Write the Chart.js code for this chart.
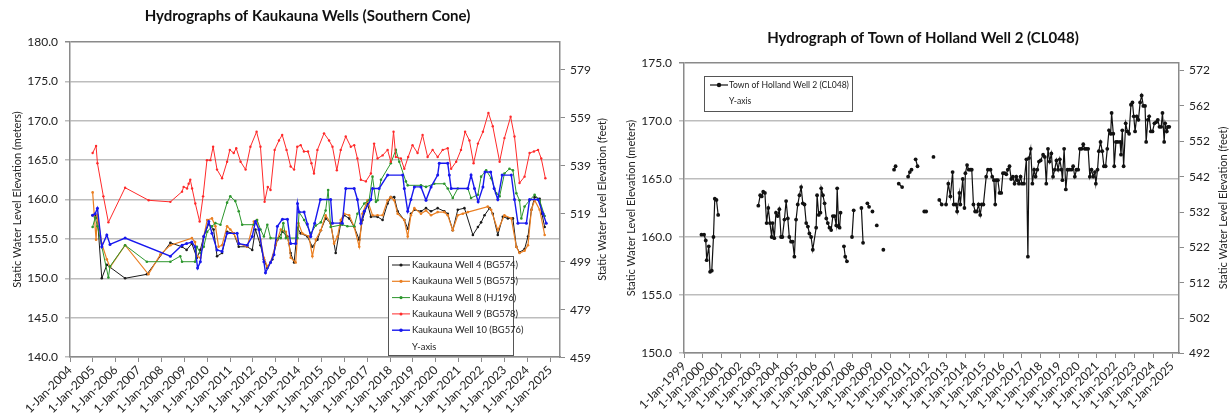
<!DOCTYPE html>
<html>
<head>
<meta charset="utf-8">
<script src="https://cdn.jsdelivr.net/npm/chart.js@4.4.1/dist/chart.umd.min.js"></script>
<style>
  html, body { margin: 0; padding: 0; background: #fff; }
  #wrap { position: relative; width: 1231px; height: 416px; }
  .pane { position: absolute; top: 0; height: 416px; }
</style>
</head>
<body>
<div id="wrap">
  <div class="pane" style="left:0;width:615px"><canvas id="kaukauna" width="615" height="416"></canvas></div>
  <div class="pane" style="left:615px;width:616px"><canvas id="holland" width="616" height="416"></canvas></div>
</div>
<script>
const FT = 3.28084; // metres -> feet

// ---- Kaukauna wells (decimal year, static water level in m) ----
const well4Years = [2004.99, 2005.10, 2005.20, 2005.39, 2005.61, 2006.41, 2007.36, 2008.39, 2008.90, 2009.10, 2009.33, 2009.55, 2009.70, 2009.85, 2010.07, 2010.28, 2010.43, 2010.65, 2010.87, 2011.16, 2011.38, 2011.75, 2011.97, 2012.11, 2012.33, 2012.48, 2012.63, 2012.85, 2013.07, 2013.29, 2013.51, 2013.65, 2013.80, 2013.95, 2014.09, 2014.38, 2014.60, 2014.82, 2014.97, 2015.18, 2015.40, 2015.62, 2015.84, 2015.99, 2016.21, 2016.43, 2016.65, 2016.79, 2017.01, 2017.16, 2017.45, 2017.67, 2017.89, 2018.03, 2018.18, 2018.33, 2018.62, 2018.77, 2018.91, 2019.06, 2019.35, 2019.57, 2019.79, 2020.08, 2020.37, 2020.52, 2020.74, 2020.96, 2021.25, 2021.62, 2021.84, 2021.98, 2022.13, 2022.35, 2022.49, 2022.71, 2022.93, 2023.15, 2023.37, 2023.52, 2023.66, 2023.88, 2024.03, 2024.18, 2024.32, 2024.54, 2024.64, 2024.76];
const well4Levels = [158.0, 158.0, 157.6, 150.0, 151.7, 150.0, 150.5, 154.5, 154.0, 153.6, 154.4, 152.6, 153.6, 155.3, 156.9, 156.2, 152.8, 153.2, 155.9, 155.7, 154.0, 154.0, 153.6, 156.2, 154.2, 152.4, 151.3, 152.4, 154.9, 155.9, 155.3, 153.2, 152.0, 156.4, 155.7, 155.3, 154.0, 154.9, 156.1, 157.6, 157.0, 153.2, 157.0, 158.0, 157.6, 156.5, 154.9, 157.4, 159.5, 157.8, 157.8, 157.4, 159.5, 160.3, 160.3, 158.5, 157.4, 156.3, 158.2, 158.7, 158.5, 158.9, 158.5, 158.9, 158.5, 158.2, 156.1, 158.7, 158.9, 155.5, 156.5, 157.1, 158.0, 158.9, 158.2, 155.5, 157.8, 157.6, 157.6, 154.0, 153.3, 153.7, 155.3, 158.7, 160.3, 160.1, 158.2, 156.5];

const well5Years = [2004.99, 2005.14, 2005.20, 2005.39, 2005.61, 2005.75, 2006.41, 2007.43, 2007.95, 2008.39, 2009.33, 2009.47, 2009.55, 2009.70, 2009.85, 2010.00, 2010.21, 2010.36, 2010.50, 2010.65, 2010.87, 2011.01, 2011.16, 2011.38, 2011.75, 2012.04, 2012.18, 2012.33, 2012.48, 2012.63, 2012.77, 2012.99, 2013.22, 2013.44, 2013.58, 2013.65, 2013.87, 2013.99, 2014.16, 2014.45, 2014.60, 2014.75, 2014.97, 2015.18, 2015.40, 2015.55, 2015.70, 2015.84, 2015.99, 2016.21, 2016.43, 2016.65, 2016.79, 2017.01, 2017.23, 2017.45, 2017.67, 2017.89, 2018.03, 2018.18, 2018.33, 2018.62, 2018.77, 2018.91, 2019.06, 2019.35, 2019.57, 2019.79, 2020.08, 2020.37, 2020.52, 2020.74, 2020.96, 2021.18, 2021.40, 2022.27, 2022.42, 2022.71, 2023.00, 2023.30, 2023.52, 2023.66, 2023.88, 2024.03, 2024.18, 2024.32, 2024.54, 2024.76];
const well5Levels = [160.9, 154.9, 158.0, 154.4, 152.4, 151.4, 154.2, 150.5, 153.0, 154.2, 155.1, 154.6, 152.8, 152.6, 155.3, 157.4, 157.6, 156.6, 154.0, 154.2, 156.6, 156.2, 155.7, 154.4, 154.0, 157.2, 157.4, 154.9, 152.6, 151.5, 152.0, 154.2, 156.2, 155.9, 154.4, 152.6, 152.0, 157.0, 155.7, 155.3, 152.8, 154.9, 156.1, 158.0, 157.0, 154.4, 155.3, 157.4, 158.2, 158.0, 156.5, 154.0, 158.2, 159.9, 158.0, 158.0, 158.0, 159.9, 160.3, 159.9, 158.2, 157.4, 155.3, 158.0, 158.9, 158.2, 158.6, 158.0, 158.4, 158.4, 158.0, 156.1, 158.0, 158.2, 158.4, 159.1, 158.7, 156.1, 158.0, 157.6, 154.0, 153.2, 153.5, 154.2, 158.7, 159.9, 158.7, 155.5];

const well8Years = [2004.99, 2005.10, 2005.20, 2005.68, 2005.75, 2006.41, 2007.36, 2008.39, 2008.82, 2008.90, 2009.47, 2009.55, 2009.70, 2009.85, 2010.00, 2010.21, 2010.36, 2010.58, 2010.87, 2011.01, 2011.23, 2011.38, 2011.53, 2012.04, 2012.18, 2012.33, 2012.48, 2012.63, 2012.77, 2013.22, 2013.33, 2013.44, 2013.95, 2014.02, 2014.24, 2014.53, 2014.75, 2014.97, 2015.18, 2015.29, 2015.40, 2015.91, 2016.13, 2016.43, 2016.57, 2016.87, 2017.08, 2017.23, 2017.38, 2017.45, 2017.60, 2018.03, 2018.25, 2018.40, 2018.69, 2018.77, 2019.35, 2019.57, 2019.93, 2020.37, 2020.52, 2020.74, 2020.96, 2021.40, 2021.54, 2021.84, 2021.98, 2022.20, 2022.42, 2022.64, 2022.79, 2023.00, 2023.22, 2023.37, 2023.52, 2023.66, 2023.74, 2023.88, 2024.10, 2024.32, 2024.54, 2024.76];
const well8Levels = [156.5, 157.7, 156.6, 150.1, 151.5, 154.2, 152.1, 152.1, 152.8, 152.1, 152.1, 154.0, 153.2, 154.0, 155.9, 156.6, 157.0, 156.8, 159.6, 160.4, 159.8, 158.5, 156.8, 156.8, 157.4, 156.2, 155.3, 156.8, 155.1, 155.1, 157.0, 155.1, 155.1, 158.4, 157.4, 155.7, 156.7, 157.1, 158.6, 161.2, 156.5, 156.8, 156.6, 156.6, 158.2, 159.5, 159.9, 162.9, 159.7, 159.9, 162.5, 164.6, 166.3, 164.8, 162.3, 161.8, 161.8, 161.6, 162.0, 162.0, 161.4, 160.2, 161.4, 161.4, 160.2, 160.6, 162.9, 163.7, 162.7, 160.8, 160.4, 163.3, 163.9, 163.7, 160.8, 159.9, 157.6, 159.1, 159.9, 160.6, 159.9, 157.9];

const well9Years = [2004.99, 2005.14, 2005.20, 2005.46, 2005.68, 2006.41, 2007.44, 2008.39, 2008.90, 2008.97, 2009.12, 2009.19, 2009.26, 2009.34, 2009.48, 2009.67, 2009.82, 2009.99, 2010.14, 2010.26, 2010.43, 2010.65, 2010.87, 2010.99, 2011.16, 2011.27, 2011.46, 2011.68, 2011.89, 2012.16, 2012.33, 2012.51, 2012.65, 2012.77, 2012.95, 2013.14, 2013.28, 2013.47, 2013.65, 2013.80, 2013.94, 2014.09, 2014.23, 2014.41, 2014.56, 2014.67, 2014.82, 2015.11, 2015.33, 2015.48, 2015.67, 2015.84, 2016.06, 2016.28, 2016.43, 2016.57, 2016.72, 2016.94, 2017.16, 2017.30, 2017.45, 2017.67, 2017.89, 2018.03, 2018.15, 2018.25, 2018.47, 2018.62, 2018.79, 2018.98, 2019.20, 2019.42, 2019.64, 2019.86, 2020.08, 2020.30, 2020.52, 2020.67, 2020.89, 2021.10, 2021.28, 2021.47, 2021.65, 2021.84, 2022.06, 2022.30, 2022.49, 2022.79, 2023.00, 2023.27, 2023.44, 2023.66, 2023.88, 2024.10, 2024.29, 2024.47, 2024.61, 2024.79];
const well9Levels = [165.9, 166.8, 164.6, 160.4, 157.1, 161.5, 159.9, 159.7, 161.0, 161.6, 161.4, 162.0, 162.5, 161.4, 159.5, 157.2, 160.4, 165.0, 165.0, 166.7, 163.8, 162.7, 164.8, 166.3, 165.9, 166.5, 164.8, 163.8, 166.7, 168.6, 166.7, 159.7, 161.6, 161.2, 166.3, 167.5, 168.2, 166.3, 164.2, 163.8, 166.7, 166.9, 166.1, 166.1, 164.6, 163.3, 166.3, 168.4, 167.5, 166.7, 163.7, 166.3, 168.0, 166.7, 166.9, 165.2, 162.5, 162.3, 163.3, 167.1, 165.2, 165.6, 166.3, 164.8, 168.6, 165.4, 165.2, 163.9, 165.4, 166.9, 165.9, 168.2, 165.4, 166.3, 165.4, 166.3, 166.5, 163.9, 164.8, 166.3, 168.6, 167.5, 164.6, 167.1, 168.6, 171.0, 169.3, 164.8, 167.8, 170.5, 168.0, 162.1, 162.9, 165.9, 166.1, 166.3, 165.2, 162.7];

const well10Years = [2004.99, 2005.10, 2005.20, 2005.39, 2005.61, 2005.75, 2006.41, 2008.39, 2008.90, 2009.10, 2009.33, 2009.47, 2009.58, 2009.70, 2009.85, 2010.07, 2010.21, 2010.43, 2010.65, 2010.87, 2011.31, 2011.38, 2011.75, 2011.97, 2012.11, 2012.26, 2012.48, 2012.55, 2012.77, 2012.92, 2013.07, 2013.29, 2013.51, 2013.65, 2013.87, 2013.95, 2014.02, 2014.24, 2014.38, 2014.53, 2014.70, 2014.95, 2015.40, 2015.48, 2015.91, 2016.06, 2016.43, 2016.57, 2016.72, 2016.87, 2017.16, 2017.23, 2017.52, 2017.89, 2018.55, 2018.62, 2018.77, 2018.91, 2019.06, 2019.35, 2019.57, 2019.79, 2020.08, 2020.15, 2020.52, 2020.59, 2020.67, 2021.40, 2021.54, 2021.69, 2021.85, 2022.06, 2022.15, 2022.40, 2022.55, 2022.71, 2022.90, 2023.30, 2023.44, 2023.59, 2023.96, 2024.10, 2024.47, 2024.69, 2024.83];
const well10Levels = [158.0, 158.2, 158.9, 154.0, 155.5, 154.3, 155.1, 152.8, 154.2, 154.4, 154.6, 154.0, 151.3, 152.1, 155.3, 157.2, 155.7, 153.6, 153.4, 155.7, 155.7, 154.4, 154.2, 155.3, 157.2, 156.2, 152.1, 150.7, 152.0, 153.0, 156.6, 157.5, 157.5, 154.4, 154.4, 159.5, 158.4, 158.4, 156.9, 155.3, 157.0, 160.0, 160.0, 157.0, 157.0, 161.4, 161.4, 160.0, 157.0, 158.5, 160.0, 161.4, 161.4, 163.1, 163.1, 161.4, 158.5, 160.0, 161.6, 161.6, 159.9, 161.6, 163.1, 164.6, 164.6, 163.1, 161.4, 161.4, 163.1, 161.4, 159.7, 161.6, 163.5, 163.5, 161.4, 160.0, 163.1, 163.1, 160.0, 157.0, 157.0, 160.0, 160.0, 158.2, 157.0];

// ---- Town of Holland Well 2 (null = gap in record) ----
const hollandYears = [1999.93, 2000.07, 2000.16, 2000.21, 2000.32, 2000.39, 2000.48, 2000.57, 2000.64, 2000.73, 2000.82, 2001.5,
  2002.96, 2003.06, 2003.14, 2003.22, 2003.31, 2003.40, 2003.49, 2003.58, 2003.67, 2003.72, 2003.81, 2003.90, 2003.99, 2004.08, 2004.17, 2004.24, 2004.35, 2004.44, 2004.53, 2004.61, 2004.70, 2004.79, 2004.88, 2004.97, 2005.06, 2005.15, 2005.24, 2005.33, 2005.42, 2005.51, 2005.60, 2005.68, 2005.77, 2005.86, 2006.04, 2006.09, 2006.18, 2006.27, 2006.31, 2006.40, 2006.49, 2006.58, 2006.66, 2006.75, 2006.84, 2006.93, 2007.02, 2007.11, 2007.16, 2007.24, 2007.29, 2007.34, 2007.43,
  2007.52, 2007.59, 2007.68, 2007.80, 2007.95, 2008.04, 2008.20, 2008.45, 2008.54, 2008.65, 2008.77, 2008.86, 2008.95, 2009.04, 2009.15, 2009.27, 2009.45, 2009.62, 2009.90,
  2010.19, 2010.27, 2010.35, 2010.44, 2010.62, 2010.80, 2010.94, 2011.03, 2011.12, 2011.23, 2011.34, 2011.44, 2011.60, 2011.80, 2011.90, 2012.10, 2012.29, 2012.45, 2012.60, 2012.73, 2012.85,
  2012.96, 2013.08, 2013.19, 2013.31, 2013.37, 2013.49, 2013.55, 2013.67, 2013.72, 2013.85, 2013.94, 2013.99, 2014.08, 2014.17, 2014.26, 2014.33, 2014.42, 2014.51, 2014.60, 2014.69, 2014.78, 2014.86, 2014.95, 2015.10, 2015.19, 2015.33, 2015.42, 2015.51, 2015.58, 2015.63, 2015.72, 2015.81, 2015.90, 2015.99, 2016.08, 2016.17, 2016.25, 2016.34, 2016.43, 2016.52, 2016.61, 2016.70, 2016.75, 2016.84, 2016.93, 2017.00, 2017.11, 2017.24, 2017.32, 2017.38, 2017.47, 2017.56, 2017.65, 2017.73, 2017.82, 2017.91, 2018.00, 2018.13, 2018.22, 2018.30, 2018.39, 2018.48, 2018.57, 2018.66, 2018.75, 2018.84, 2018.93, 2019.02, 2019.11, 2019.16, 2019.25, 2019.34, 2019.43, 2019.52, 2019.64, 2019.73, 2019.82, 2019.91, 2020.00, 2020.09, 2020.18, 2020.27, 2020.35, 2020.44, 2020.53, 2020.62, 2020.71, 2020.80, 2020.89, 2020.94, 2021.03, 2021.10, 2021.19, 2021.28, 2021.37, 2021.46, 2021.55, 2021.64, 2021.73, 2021.78, 2021.87, 2021.92, 2022.01, 2022.10, 2022.23, 2022.28, 2022.35, 2022.42, 2022.53, 2022.62, 2022.71, 2022.81, 2022.89, 2022.96, 2023.03, 2023.12, 2023.21, 2023.30, 2023.38, 2023.47, 2023.56, 2023.62, 2023.71, 2023.78, 2023.87, 2023.96, 2024.06, 2024.15, 2024.24, 2024.33, 2024.42, 2024.49, 2024.58, 2024.63, 2024.72, 2024.78, 2024.85];
const hollandLevels = [160.2, 160.2, 159.7, 158.0, 159.2, 157.0, 157.1, 160.0, 163.3, 163.2, 161.9, null,
  162.7, 163.6, 163.5, 163.9, 163.8, 161.2, 162.5, 161.2, 160.0, 161.2, 159.9, 162.1, 161.8, 162.4, 160.0, 160.0, 161.5, 163.1, 161.6, 160.0, 159.6, 159.6, 158.3, 161.5, 162.8, 163.6, 164.3, 162.9, 162.8, 161.2, 160.9, 160.3, 160.0, 158.9, 160.8, 163.6, 161.9, 162.1, 164.2, 163.6, 162.9, 161.6, 161.2, 160.8, 160.6, 161.8, 161.8, 161.0, 164.2, 160.9, 160.8, 162.1, null,
  159.2, 158.3, 157.9, null, 160.0, 162.3, null, 162.5, 159.5, null, 162.9, 162.6, null, 162.2, null, 161.0, null, 158.9, null,
  165.8, 166.1, null, 164.6, 164.3, null, 165.2, 165.6, 165.8, null, 166.7, 166.1, null, 162.2, 162.2, null, 166.9, null, 163.2, 162.8, null,
  162.8, 164.6, 163.5, 165.6, 162.8, 162.8, 162.2, 163.8, 162.8, 165.0, 162.5, 165.5, 166.2, 165.8, 165.8, 165.8, 162.8, 162.2, 162.2, 162.8, 161.9, 162.8, 162.8, 165.2, 165.8, 165.8, 165.2, 164.9, 162.8, 164.9, 164.9, 163.8, 163.8, 165.5, 165.5, 165.4, 165.8, 166.1, 165.0, 165.2, 164.6, 165.2, 164.9, 164.6, 165.2, 164.6, 164.6, 166.7, 158.3, 166.8, 167.6, 164.6, 165.8, 165.2, 165.8, 166.5, 166.6, 167.1, 166.9, 164.6, 167.6, 166.5, 167.2, 165.2, 165.8, 166.6, 165.8, 166.7, 165.8, 164.9, 167.6, 164.1, 165.8, 165.8, 165.8, 166.1, 165.2, 165.8, 165.8, 167.6, 167.6, 168.0, 167.6, 167.6, 167.6, 165.2, 165.8, 165.2, 165.6, 164.6, 165.8, 167.4, 168.2, 167.4, 166.1, 166.1, 167.6, 169.2, 168.9, 170.7, 168.9, 166.1, 168.2, 168.2, 168.2, 167.1, 169.2, 166.1, 169.8, 169.1, 168.9, 171.4, 171.6, 170.4, 169.1, 170.4, 170.1, 171.6, 172.2, 171.3, 171.3, 168.2, 170.1, 170.4, 169.1, 169.1, 169.8, 169.9, 170.1, 169.5, 169.5, 170.7, 168.2, 169.8, 169.1, 169.5, 169.5];

// ---- axis ticks ----
const kaukaunaYearTicks = [2004, 2005, 2006, 2007, 2008, 2009, 2010, 2011, 2012, 2013, 2014, 2015, 2016, 2017, 2018, 2019, 2020, 2021, 2022, 2023, 2024, 2025];
const kaukaunaMeterTicks = [140, 145, 150, 155, 160, 165, 170, 175, 180];
const kaukaunaFeetTicks = [459, 479, 499, 519, 539, 559, 579];
const hollandYearTicks = [1999, 2000, 2001, 2002, 2003, 2004, 2005, 2006, 2007, 2008, 2009, 2010, 2011, 2012, 2013, 2014, 2015, 2016, 2017, 2018, 2019, 2020, 2021, 2022, 2023, 2024, 2025];
const hollandMeterTicks = [150, 155, 160, 165, 170, 175];
const hollandFeetTicks = [492, 502, 512, 522, 532, 542, 552, 562, 572];

const pts = (xs, ys) => xs.map((x, i) => ({ x: x, y: ys[i] }));

Chart.defaults.font.family = 'Lato';
Chart.defaults.color = '#222';

const AXIS = '#8a8a8a';
const GRID = '#bdbdbd';

// legend box drawn inside the plot like the Excel original
const boxLegend = {
  id: 'boxLegend',
  afterDraw(chart, args, o) {
    const ctx = chart.ctx;
    ctx.save();
    ctx.fillStyle = '#fff';
    ctx.fillRect(o.x, o.y, o.w, o.h);
    ctx.strokeStyle = '#555';
    ctx.lineWidth = 1;
    ctx.strokeRect(o.x + 0.5, o.y + 0.5, o.w, o.h);
    ctx.font = o.font;
    ctx.textBaseline = 'middle';
    chart.data.datasets.forEach((ds, i) => {
      const y = o.y + o.first + i * o.row;
      if (ds.data.length) {
        ctx.strokeStyle = ds.borderColor;
        ctx.lineWidth = ds.borderWidth;
        ctx.beginPath();
        ctx.moveTo(o.x + o.line0, y);
        ctx.lineTo(o.x + o.line1, y);
        ctx.stroke();
        ctx.fillStyle = ds.pointBackgroundColor;
        ctx.beginPath();
        ctx.arc(o.x + (o.line0 + o.line1) / 2, y, ds.pointRadius + 0.3, 0, Math.PI * 2);
        ctx.fill();
      }
      ctx.fillStyle = '#222';
      ctx.fillText(ds.label, o.x + o.text, y);
    });
    ctx.restore();
  }
};

// right axis title, reading bottom-to-top as in the original
const rightTitle = {
  id: 'rightTitle',
  afterDraw(chart, args, o) {
    const ctx = chart.ctx;
    const a = chart.chartArea;
    ctx.save();
    ctx.translate(a.right + o.offset, (a.top + a.bottom) / 2);
    ctx.rotate(-Math.PI / 2);
    ctx.font = '11px Lato';
    ctx.fillStyle = '#222';
    ctx.textAlign = 'center';
    ctx.textBaseline = 'middle';
    ctx.fillText(o.text, 0, 0);
    ctx.restore();
  }
};

function scales(cfg) {
  return {
    x: {
      type: 'linear', min: cfg.xMin, max: cfg.xMax,
      afterBuildTicks: s => { s.ticks = cfg.xTicks.map(v => ({ value: v })); },
      afterFit: s => { s.height = cfg.xHeight; },
      ticks: { autoSkip: false, minRotation: 45, maxRotation: 45, padding: 1, font: { size: 12 }, callback: v => '1-Jan-' + v },
      grid: { drawOnChartArea: false, tickLength: 5, color: AXIS, lineWidth: 1 },
      border: { color: AXIS, width: 1.5 }
    },
    y: {
      position: 'left', min: cfg.yMin, max: cfg.yMax,
      afterBuildTicks: s => { s.ticks = cfg.yTicks.map(v => ({ value: v })); },
      afterFit: s => { s.width = cfg.yWidth; },
      ticks: { padding: 7, font: { size: 12 }, callback: v => v.toFixed(1) },
      grid: { color: c => (c.tick && c.tick.value === cfg.yMax ? AXIS : GRID), lineWidth: 1.5, tickLength: 5 },
      border: { color: AXIS, width: 1.5 },
      title: { display: true, text: 'Static Water Level Elevation (meters)', font: { size: 11 }, padding: { top: cfg.titlePad, bottom: 0 } }
    },
    y2: {
      position: 'right', min: cfg.yMin * FT, max: cfg.yMax * FT,
      afterBuildTicks: s => { s.ticks = cfg.y2Ticks.map(v => ({ value: v })); },
      afterFit: s => { s.width = cfg.y2Width; },
      ticks: { padding: 5, font: { size: 12 }, callback: v => String(v) },
      grid: { drawOnChartArea: false, tickLength: 5, color: AXIS, lineWidth: 1 },
      border: { color: AXIS, width: 1.5 }
    }
  };
}

function series(label, xs, ys, color, width, radius, order) {
  return {
    label: label, data: pts(xs, ys), borderColor: color, backgroundColor: color,
    pointBackgroundColor: color, pointBorderColor: color, borderWidth: width,
    pointRadius: radius, pointBorderWidth: 0, tension: 0, order: order, yAxisID: 'y'
  };
}

new Chart(document.getElementById('kaukauna'), {
  type: 'line',
  data: {
    datasets: [
      series('Kaukauna Well 4 (BG574)', well4Years, well4Levels, '#1a1a1a', 1, 1.3, 5),
      series('Kaukauna Well 5 (BG575)', well5Years, well5Levels, '#ea7f22', 1.2, 1.3, 4),
      series('Kaukauna Well 8 (HJ196)', well8Years, well8Levels, '#2c962c', 1, 1.3, 3),
      series('Kaukauna Well 9 (BG578)', well9Years, well9Levels, '#ff2a2a', 1, 1.2, 2),
      series('Kaukauna Well 10 (BG576)', well10Years, well10Levels, '#1818ee', 1.4, 1.5, 1),
      { label: 'Y-axis', data: [], yAxisID: 'y2', borderColor: 'rgba(0,0,0,0)' }
    ]
  },
  options: {
    responsive: false, animation: false, devicePixelRatio: 1,
    scales: scales({ xMin: 2004, xMax: 2025.43, xTicks: kaukaunaYearTicks, xHeight: 59,
      yMin: 140, yMax: 180, yTicks: kaukaunaMeterTicks, yWidth: 70, titlePad: 11,
      y2Ticks: kaukaunaFeetTicks, y2Width: 55 }),
    plugins: {
      legend: { display: false },
      tooltip: { enabled: false },
      title: { display: true, text: 'Hydrographs of Kaukauna Wells (Southern Cone)', color: '#111',
        font: { size: 15, weight: 'bold' }, padding: { top: 7, bottom: 17 } },
      boxLegend: { x: 388, y: 256, w: 125, h: 99, first: 9, row: 16.3, line0: 4, line1: 22, text: 24, font: '9.4px Lato' },
      rightTitle: { text: 'Static Water Level Elevation (feet)', offset: 42 }
    }
  },
  plugins: [boxLegend, rightTitle]
});

new Chart(document.getElementById('holland'), {
  type: 'line',
  data: {
    datasets: [
      series('Town of Holland Well 2 (CL048)', hollandYears, hollandLevels, '#111', 1.2, 1.9, 1),
      { label: 'Y-axis', data: [], yAxisID: 'y2', borderColor: 'rgba(0,0,0,0)' }
    ]
  },
  options: {
    responsive: false, animation: false, devicePixelRatio: 1,
    spanGaps: false,
    scales: scales({ xMin: 1999, xMax: 2025.37, xTicks: hollandYearTicks, xHeight: 63,
      yMin: 150, yMax: 175, yTicks: hollandMeterTicks, yWidth: 69, titlePad: 10,
      y2Ticks: hollandFeetTicks, y2Width: 52 }),
    plugins: {
      legend: { display: false },
      tooltip: { enabled: false },
      title: { display: true, text: 'Hydrograph of Town of Holland Well 2 (CL048)', color: '#111',
        font: { size: 15, weight: 'bold' }, padding: { top: 29, bottom: 16 } },
      boxLegend: { x: 89, y: 76, w: 148, h: 35, first: 9, row: 16.7, line0: 6, line1: 24, text: 25, font: '8.6px Lato' },
      rightTitle: { text: 'Static Water Level Elevation (feet)', offset: 44 }
    }
  },
  plugins: [boxLegend, rightTitle]
});
</script>
</body>
</html>
